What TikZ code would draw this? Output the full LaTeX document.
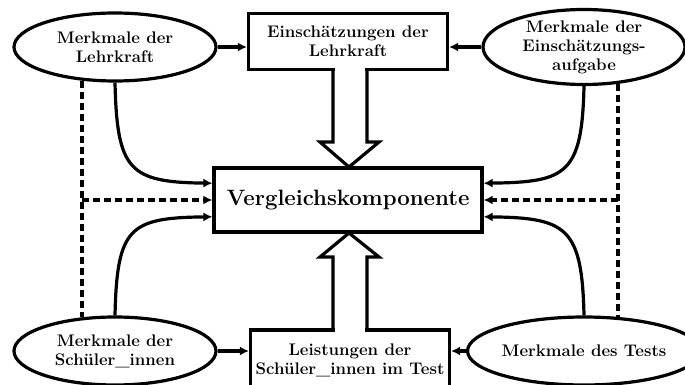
\documentclass[tikz,border=0pt]{standalone}
\usetikzlibrary{shapes.geometric,arrows.meta,calc}
\begin{document}
\begin{tikzpicture}[x=1pt,y=-1pt,
  lw/.style={line width=3.2pt},
  txt/.style={font=\fontsize{16.8}{19}\selectfont\bfseries,align=center},
  ell/.style={ellipse,draw,lw,txt,minimum width=202pt,minimum height=68pt,inner sep=0pt},
  box/.style={rectangle,draw,lw,txt,inner sep=0pt},
  arr/.style={lw,-{Latex[length=9pt,width=9pt]}},
  darr/.style={arr,dash pattern=on 7pt off 4pt},
  dline/.style={lw,dash pattern=on 7pt off 4pt},
  hollow/.style={draw,lw,line join=miter}
]
\useasboundingbox (0,0) rectangle (685,385);

% boxes
\node[box,minimum width=199pt,minimum height=56pt] (e) at (348,41.5) {Einsch\"atzungen der\\Lehrkraft};
\node[box,minimum width=268pt,minimum height=64pt,font=\fontsize{22.2}{26}\selectfont\bfseries] (v) at (348,200) {Vergleichskomponente};
\node[box,minimum width=199pt,minimum height=60pt] (l) at (350,360) {Leistungen der\\Sch\"uler\_innen im Test};

% ellipses
\node[ell] (mL) at (115,47) {Merkmale der\\Lehrkraft};
\node[ell] (mT) at (584,47) {Merkmale der\\Einsch\"atzungs-\\aufgabe};
\node[ell] (mS) at (115,351) {Merkmale der\\Sch\"uler\_innen};
\node[ell] (mB) at (584,351) {Merkmale des Tests};

% hollow arrows
\fill[white] (334.8,65) rectangle (365.2,74);
\draw[hollow] (333,70) -- (333,142) -- (320,142) -- (349,167) -- (379,142) -- (367,142) -- (367,70);
\fill[white] (334.8,326) rectangle (365.2,335);
\draw[hollow] (333,330) -- (333,257) -- (320,257) -- (349,233) -- (379,257) -- (367,257) -- (367,330);

% anchor points on comparison box
\coordinate (vL1) at ($(v.north west)!0.25!(v.south west)$);
\coordinate (vL3) at ($(v.north west)!0.75!(v.south west)$);
\coordinate (vR1) at ($(v.north east)!0.25!(v.south east)$);
\coordinate (vR3) at ($(v.north east)!0.75!(v.south east)$);
\coordinate (dL) at (82,200);
\coordinate (dR) at (618,200);

% horizontal arrows
\draw[arr] (mL.east) -- (mL.east -| e.west);
\draw[arr] (mT.west) -- (mT.west -| e.east);
\draw[arr] (mS.east) -- (mS.east -| l.west);
\draw[arr] (mB.west) -- (mB.west -| l.east);

% curved arrows
\draw[arr] (mL.south) .. controls +(2,88) and +(-83,-1) .. (vL1);
\draw[arr] (mS.north) .. controls +(2,-88) and +(-83,1) .. (vL3);
\draw[arr] (mT.south) .. controls +(-2,88) and +(83,-1) .. (vR1);
\draw[arr] (mB.north) .. controls +(-2,-88) and +(83,1) .. (vR3);

% dashed lines
\draw[dline] ($(dL |- mL.south)+(0,-2)$) -- ($(dL |- mS.north)+(0,2)$);
\draw[darr] (dL) -- (dL -| v.west);
\draw[dline] ($(dR |- mT.south)+(0,-2)$) -- ($(dR |- mB.north)+(0,2)$);
\draw[darr] (dR) -- (dR -| v.east);
\end{tikzpicture}
\end{document}
